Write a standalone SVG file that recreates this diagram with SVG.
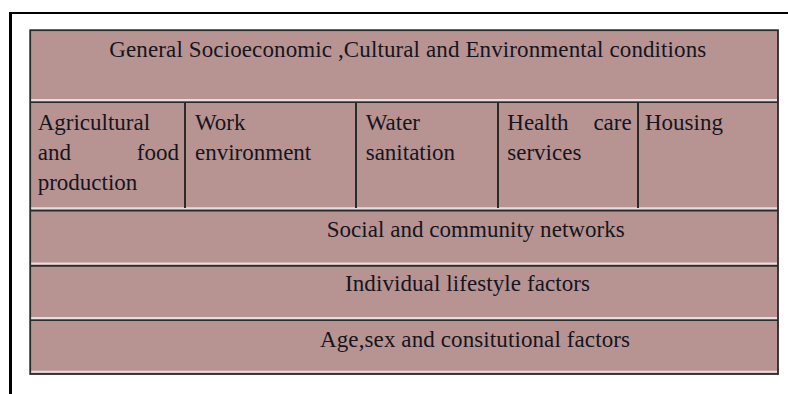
<svg xmlns="http://www.w3.org/2000/svg" width="788" height="394" viewBox="0 0 788 394">
  <style>
    .cell { fill: #b79391; }
    .t { font-family: "Liberation Serif", "Times New Roman", serif; font-size: 23px; fill: #15151f; }
    .dark { stroke: #2a2a2a; fill: none; }
    .light { stroke: #e4dede; fill: none; }
  </style>
  <rect x="0" y="0" width="788" height="394" fill="#ffffff"/>
  <!-- outer frame -->
  <g id="frame">
    <line x1="10.5" y1="12" x2="10.5" y2="394" stroke="#000" stroke-width="3"/>
    <line x1="9" y1="13" x2="788" y2="13" stroke="#000" stroke-width="2"/>
  </g>
  <!-- table background -->
  <rect class="cell" x="30" y="30" width="748" height="344"/>

  <g id="row-general">
    <text class="t" x="109.3" y="57" textLength="597" lengthAdjust="spacing">General Socioeconomic ,Cultural and Environmental conditions</text>
  </g>
  <g id="cell-agricultural">
    <text class="t" x="37.7" y="129.5">Agricultural</text>
    <text class="t" x="37.7" y="160">and</text>
    <text class="t" x="179" y="160" text-anchor="end">food</text>
    <text class="t" x="37.7" y="190">production</text>
  </g>
  <g id="cell-work">
    <text class="t" x="195" y="129.5">Work</text>
    <text class="t" x="195" y="160">environment</text>
  </g>
  <g id="cell-water">
    <text class="t" x="365.7" y="129.5">Water</text>
    <text class="t" x="365.7" y="160">sanitation</text>
  </g>
  <g id="cell-health">
    <text class="t" x="507.3" y="129.5">Health</text>
    <text class="t" x="631.7" y="129.5" text-anchor="end">care</text>
    <text class="t" x="507.3" y="160">services</text>
  </g>
  <g id="cell-housing">
    <text class="t" x="645" y="129.5">Housing</text>
  </g>
  <g id="row-social">
    <text class="t" x="326.7" y="237" textLength="298" lengthAdjust="spacing">Social and community networks</text>
  </g>
  <g id="row-individual">
    <text class="t" x="345" y="291" textLength="245" lengthAdjust="spacing">Individual lifestyle factors</text>
  </g>
  <g id="row-age">
    <text class="t" x="320" y="347" textLength="310" lengthAdjust="spacing">Age,sex and consitutional factors</text>
  </g>

  <!-- cell borders -->
  <g id="borders">
    <!-- row separators: light then dark -->
    <line class="light" x1="31" y1="100" x2="777" y2="100" stroke-width="2"/>
    <line class="dark" x1="30" y1="102.3" x2="778" y2="102.3" stroke-width="1.6"/>
    <line class="light" x1="31" y1="208.3" x2="777" y2="208.3" stroke-width="2"/>
    <line class="dark" x1="30" y1="210.6" x2="778" y2="210.6" stroke-width="1.6"/>
    <line class="light" x1="31" y1="263.6" x2="777" y2="263.6" stroke-width="2"/>
    <line class="dark" x1="30" y1="265.9" x2="778" y2="265.9" stroke-width="1.6"/>
    <line class="light" x1="31" y1="318" x2="777" y2="318" stroke-width="2"/>
    <line class="dark" x1="30" y1="320.3" x2="778" y2="320.3" stroke-width="1.6"/>
    <line class="light" x1="31" y1="371.7" x2="777" y2="371.7" stroke-width="2"/>
    <!-- column separators in row 2 -->
    <line class="dark" x1="185" y1="102" x2="185" y2="208" stroke-width="2"/>
    <line class="dark" x1="356" y1="102" x2="356" y2="208" stroke-width="2"/>
    <line class="dark" x1="498" y1="102" x2="498" y2="208" stroke-width="2"/>
    <line class="dark" x1="638" y1="102" x2="638" y2="208" stroke-width="2"/>
    <!-- outer table border -->
    <rect class="dark" x="30.2" y="30.2" width="747.8" height="343.8" stroke-width="1.8"/>
  </g>
</svg>
